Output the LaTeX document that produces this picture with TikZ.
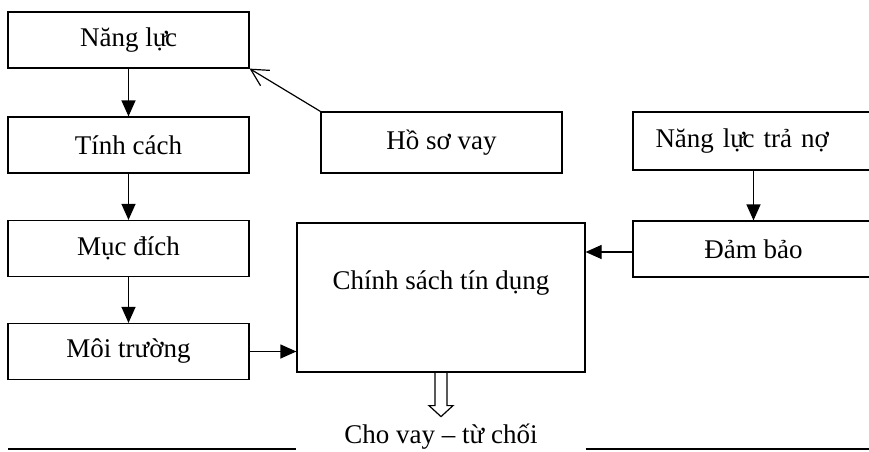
\documentclass[tikz,border=0pt]{standalone}
\usepackage{fontspec}
\setmainfont{Liberation Serif}
\usetikzlibrary{arrows.meta}
\newcommand{\luc}{l^^^^1ef1\kern-1.2pt c}
\tikzset{
  khung/.style={draw, line width=0.6pt, minimum width=120.5pt, minimum height=28pt, inner sep=2pt},
  muiten/.style={line width=0.6pt, -{Triangle[length=8pt,width=7pt]}},
}
\begin{document}
\begin{tikzpicture}[x=0.5pt, y=-0.5pt, font=\fontsize{13.5}{16}\selectfont]
        \useasboundingbox (0,0) rectangle (869,451);
        \clip (0,0) rectangle (869,451);
        % Draw left column
        \node[khung] (nangluc) at (128.5, 40) {Năng \luc};
        \node[khung] (tinhcach) at (128.5, 145) {Tính cách};
        \node[khung] (mucdich) at (128.5, 248.5) {M^^^^1ee5c đích};
        \node[khung] (moitruong) at (128.5, 351.5) {Môi trư^^^^1eddng};
        \draw[muiten] (nangluc) -- (tinhcach);
        \draw[muiten] (tinhcach) -- (mucdich);
        \draw[muiten] (mucdich) -- (moitruong);
        % Draw middle boxes
        \node[khung, minimum height=30.5pt] (hoso) at (441.5, 142.5) {H^^^^1ed3 sơ vay};
        \node[khung, minimum width=144pt, minimum height=74.5pt,
              label={[yshift=7pt]center:Chính sách tín d^^^^1ee5ng}] (chinhsach) at (441, 297.5) {};
        \draw[line width=0.6pt, -{Straight Barb[length=8.5pt,width=9pt]}] (hoso.north west) -- (nangluc.south east);
        \draw[muiten] (moitruong) -- (moitruong -| chinhsach.west);
        % Draw right column
        \node[khung, minimum height=29pt, text width=98pt, align=left, inner xsep=11pt] (trano) at (753.5, 141) {Năng \luc{} tr^^^^1ea3 n^^^^1ee3};
        \node[khung] (dambao) at (753.5, 249) {Đ^^^^1ea3m b^^^^1ea3o};
        \draw[muiten] (trano) -- (dambao);
        \draw[muiten] (dambao.west) ++(0,3) coordinate (db) -- (db -| chinhsach.east);
        % Draw result
        \node (ketqua) at (441, 437) {Cho vay -- t^^^^1eeb ch^^^^1ed1i};
        \draw[line width=0.6pt] (chinhsach.south) ++(-6,0) -- ++(0,33) -- ++(-6,0) -- ++(12,11)
             -- ++(12,-11) -- ++(-6,0) -- ++(0,-33);
        \draw[line width=0.8pt] (8,449) -- (chinhsach.west |- 0,449);
        \draw[line width=0.8pt] (chinhsach.east |- 0,449) -- (869,449);
      \end{tikzpicture}
\end{document}
